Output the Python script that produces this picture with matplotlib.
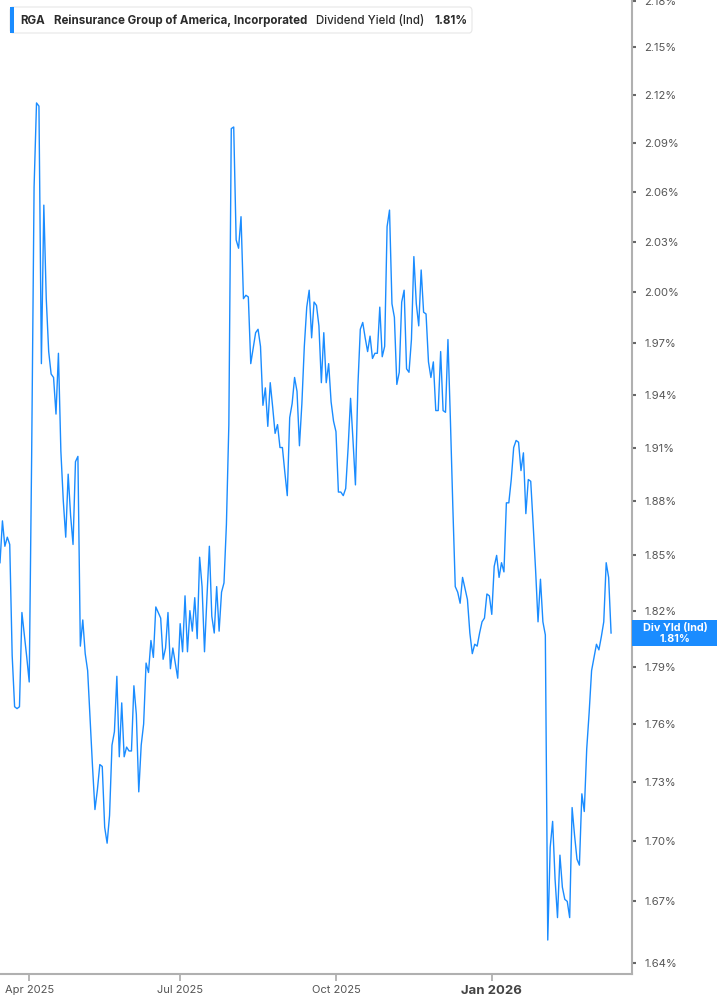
import matplotlib.pyplot as plt
import numpy as np
import pandas as pd
from matplotlib.patches import FancyBboxPatch, Rectangle
from matplotlib.ticker import NullLocator

plt.rcParams['font.family'] = ['Inter', 'DejaVu Sans']

# NYSE closures inside the window
holidays = ['2025-04-18', '2025-05-26', '2025-06-19', '2025-07-04', '2025-09-01',
            '2025-11-27', '2025-12-25', '2026-01-01', '2026-01-19', '2026-02-16']

# RGA dividend yield (ind), %, daily
div_yield = [
    1.846, 1.869, 1.855, 1.860, 1.856, 1.796, 1.769, 1.768, 1.769, 1.819,
    1.807, 1.795, 1.782, 1.905, 2.063, 2.115, 2.113, 1.958, 2.052, 1.996,
    1.965, 1.952, 1.950, 1.929, 1.964, 1.908, 1.880, 1.860, 1.895, 1.872,
    1.856, 1.902, 1.905, 1.801, 1.815, 1.797, 1.788, 1.763, 1.738, 1.716,
    1.726, 1.739, 1.738, 1.707, 1.699, 1.713, 1.749, 1.756, 1.785, 1.743,
    1.771, 1.743, 1.748, 1.746, 1.746, 1.780, 1.765, 1.725, 1.749, 1.760,
    1.792, 1.787, 1.804, 1.795, 1.822, 1.819, 1.816, 1.794, 1.800, 1.819,
    1.789, 1.800, 1.792, 1.784, 1.813, 1.798, 1.828, 1.798, 1.820, 1.809,
    1.827, 1.805, 1.849, 1.833, 1.798, 1.827, 1.855, 1.817, 1.808, 1.833,
    1.809, 1.830, 1.835, 1.867, 1.923, 2.099, 2.100, 2.031,
    2.026, 2.045, 1.996, 1.998, 1.997, 1.958, 1.967, 1.976, 1.978, 1.968,
    1.934, 1.944, 1.922, 1.947, 1.933, 1.918, 1.923, 1.910, 1.910, 1.896,
    1.883, 1.927, 1.935, 1.950, 1.942, 1.911, 1.935, 1.968, 1.991, 2.001,
    1.973, 1.994, 1.992, 1.980, 1.947, 1.976, 1.947, 1.958, 1.936, 1.925,
    1.919, 1.885, 1.885, 1.883, 1.887, 1.910, 1.938, 1.914, 1.889,
    1.945, 1.978, 1.982, 1.973, 1.965, 1.974, 1.961, 1.964, 1.964, 1.991,
    1.962, 1.968, 2.039, 2.049, 1.993, 1.985, 1.946, 1.953, 1.994, 2.001,
    1.955, 1.953, 1.972, 2.021, 1.993, 1.980, 2.013, 1.988, 1.987, 1.959,
    1.950, 1.959, 1.931, 1.931, 1.965, 1.931, 1.930, 1.972, 1.926, 1.877,
    1.833, 1.830, 1.824, 1.838, 1.832, 1.826, 1.808, 1.797,
    1.802, 1.801, 1.808, 1.814, 1.816, 1.829, 1.828, 1.818, 1.844, 1.850,
    1.838, 1.846, 1.841, 1.879, 1.879, 1.892, 1.910, 1.914, 1.913, 1.897,
    1.907, 1.873, 1.892, 1.891, 1.867, 1.842, 1.814, 1.837, 1.814, 1.807,
    1.651, 1.697, 1.710, 1.681, 1.662, 1.693, 1.677, 1.671, 1.670, 1.662,
    1.717, 1.703, 1.691, 1.688, 1.724, 1.715, 1.747, 1.766, 1.788, 1.795,
    1.802, 1.799, 1.806, 1.814, 1.846, 1.838, 1.808,
]

y_ticks = [1.64, 1.67, 1.70, 1.73, 1.76, 1.79, 1.82, 1.85, 1.88, 1.91,
           1.94, 1.97, 2.00, 2.03, 2.06, 2.09, 2.12, 2.15, 2.18]
month_ticks = ['2025-04-01', '2025-07-01', '2025-10-01', '2026-01-01']
month_labels = ['Apr 2025', 'Jul 2025', 'Oct 2025', 'Jan 2026']

line_color = '#1a8cff'
W, H = 717, 1005

dates = pd.bdate_range(start='2025-03-14', periods=len(div_yield), freq='C', holidays=holidays)
x = np.arange(len(div_yield))
tick_idx = [int(np.searchsorted(dates, pd.Timestamp(m))) for m in month_ticks]

fig = plt.figure(figsize=(W / 100, H / 100), dpi=100)
ax = fig.add_axes([0, 1 - 974 / H, 632 / W, 974 / H])
ax.plot(x, div_yield, color=line_color, lw=1.0)

ax.set_yscale('log')
ax.set_ylim(1.6345, 2.1804)
ax.set_xlim(0, 259.6)

ax.yaxis.tick_right()
ax.set_yticks(y_ticks)
ax.set_yticklabels([f'{t:.2f}%' for t in y_ticks])
ax.yaxis.set_minor_locator(NullLocator())
ax.tick_params(axis='y', length=3, width=1.5, color='#666666', labelcolor='#555555',
               labelsize=8, pad=6)

ax.set_xticks(tick_idx)
ax.set_xticklabels(month_labels)
ax.tick_params(axis='x', length=5, width=1.2, color='#aaaaaa', labelcolor='#555555',
               labelsize=8, pad=3)
lbls = ax.get_xticklabels()
lbls[-1].set_fontweight('bold')
lbls[-1].set_fontsize(9.5)
lbls[-1].set_color('#444444')

for s in ['left', 'top']:
    ax.spines[s].set_visible(False)
for s in ['right', 'bottom']:
    ax.spines[s].set_color('#b0b0b0')
    ax.spines[s].set_linewidth(1.5)


def fx(px):
    return px / W


def fy(py):
    return 1 - py / H


# legend box top left
box = FancyBboxPatch((fx(10), fy(33)), fx(472) - fx(10), fy(7) - fy(33),
                     boxstyle='round,pad=0,rounding_size=0.004', transform=fig.transFigure,
                     facecolor='white', edgecolor='#e6e6e6', lw=0.8, zorder=5)
fig.patches.append(box)
fig.patches.append(Rectangle((fx(10), fy(33)), fx(3.5), fy(7) - fy(33),
                             transform=fig.transFigure, facecolor=line_color,
                             edgecolor='none', zorder=6))

renderer = fig.canvas.get_renderer()
pieces = [('RGA', 'bold', 9), ('Reinsurance Group of America, Incorporated', 'bold', 9),
          ('Dividend Yield (Ind)', 'medium', 10), ('1.81%', 'bold', 0)]
cur = 20
for txt, wt, gap in pieces:
    t = fig.text(fx(cur), fy(20.5), txt, fontsize=8.3, fontweight=wt, color='#2b2b2b',
                 va='center', ha='left', zorder=7)
    cur += t.get_window_extent(renderer).width + gap

# current value tag on the right axis
fig.patches.append(Rectangle((fx(632), fy(646)), fx(717) - fx(632), fy(620) - fy(646),
                             transform=fig.transFigure, facecolor=line_color,
                             edgecolor='none', zorder=5))
fig.text(fx(675), fy(627.5), 'Div Yld (Ind)', fontsize=7.8, fontweight='bold',
         color='white', ha='center', va='center', zorder=6)
fig.text(fx(675), fy(639), '1.81%', fontsize=7.8, fontweight='bold',
         color='white', ha='center', va='center', zorder=6)

fig.savefig('out.png', dpi=100)
